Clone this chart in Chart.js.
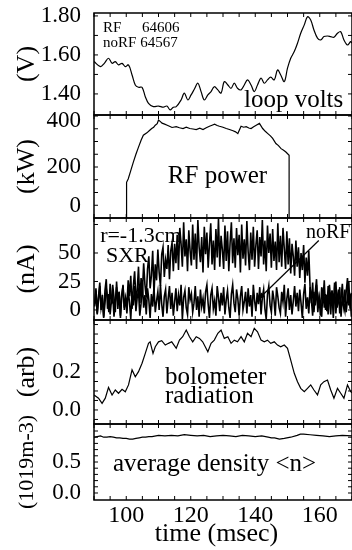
<!DOCTYPE html>
<html><head><meta charset="utf-8">
<script src="https://cdn.jsdelivr.net/npm/chart.js@4.4.0/dist/chart.umd.min.js"></script>
<style>
html,body{margin:0;padding:0;background:#fff;overflow:hidden;width:352px;height:550px}
canvas{display:block;background:#fff}
</style></head><body>
<canvas id="c" width="356" height="550"></canvas>
<script>
// ---------------- data ----------------
const timeRange = [90, 170];
const xTickVals = [100, 120, 140, 160];

// loop volts (V)
const loopT = [90.0,92.0,93.2,94.5,95.6,96.6,97.6,98.7,99.7,100.7,101.8,102.8,103.8,104.9,105.9,106.9,108.4,110.0,111.5,112.6,113.6,114.6,115.5,117.0,118.0,119.1,120.1,121.1,122.2,123.2,124.2,125.3,126.3,127.3,128.4,129.4,130.4,131.5,132.5,133.5,134.5,135.6,136.6,137.6,138.7,139.7,140.7,141.8,142.8,143.8,144.8,145.9,146.9,147.9,149.0,150.0,151.0,152.1,153.1,154.1,155.2,156.2,157.2,158.2,159.3,160.3,161.3,162.4,163.4,164.4,165.5,166.5,167.5,168.6,169.6,170];
const loopV = [1.566,1.540,1.557,1.583,1.557,1.566,1.549,1.557,1.540,1.549,1.497,1.446,1.434,1.434,1.386,1.352,1.335,1.338,1.332,1.338,1.318,1.332,1.335,1.369,1.404,1.369,1.395,1.424,1.455,1.412,1.369,1.395,1.412,1.437,1.421,1.404,1.463,1.446,1.429,1.455,1.429,1.421,1.446,1.472,1.446,1.412,1.446,1.481,1.455,1.472,1.486,1.472,1.523,1.497,1.463,1.532,1.583,1.617,1.660,1.711,1.754,1.796,1.779,1.728,1.686,1.677,1.694,1.697,1.694,1.691,1.711,1.719,1.677,1.651,1.668,1.66];

// RF power (kW)
const rfT = [100.1,100.1,100.6,101.4,102.2,103.0,103.8,104.6,105.3,106.4,107.2,107.9,108.5,109.0,109.6,110.0,110.6,111.1,111.9,112.7,113.4,114.2,115.5,116.5,117.6,118.6,119.7,120.7,121.7,122.8,123.8,124.8,125.8,126.6,127.4,128.2,128.9,130.0,131.0,132.0,133.1,133.9,134.6,135.6,136.4,137.2,138.0,138.7,139.5,140.3,141.3,142.3,143.1,143.9,144.7,145.4,146.4,147.2,148.0,148.8,149.5,150.5,150.5];
const rfP = [0,140,153,186,219,250,278,305,325,334,343,351,356,364,370,384,378,372,368,364,360,355,358,354,351,356,351,349,347,352,347,354,360,364,368,363,360,356,351,347,342,338,331,360,356,358,353,351,358,364,371,351,340,331,322,312,292,284,272,266,259,246,0];

// SXR chord r=-1.3cm (nA), sampled every 0.4 ms from 90.2 ms
const sxrStart = 90.2, sxrStep = 0.4;
const sxrRF = [5,19,-3,12,24,2,9,-6,17,27,1,14,-4,8,22,11,-2,25,6,16,-7,13,21,0,10,
  4,26,12,30,1,21,34,9,17,38,6,28,15,41,22,11,36,47,19,30,52,14,40,26,53,33,21,49,55,29,44,36,57,27,52,59,34,58,
  41,66,35,72,58,38,77,47,62,34,70,52,39,75,44,67,36,79,55,42,64,33,73,49,68,37,58,76,40,61,
  35,71,46,80,38,65,53,36,74,43,69,34,59,77,41,63,37,72,48,66,33,75,45,62,39,78,51,35,68,44,
  73,38,57,70,36,64,47,79,40,61,34,74,50,67,37,71,43,60,35,76,42,65,38,72,54,36,69,
  40,63,32,58,47,30,61,38,55,28,50,35,57,24,46,30,52,20,
  6,24,-2,15,27,3,11,-5,20,8,26,0,13,-4,22,9,17,-7,12,25,2,18,-3,10,23,5,-1,16,28,4,14,-6];
const sxrNoRF = [3,17,-4,9,21,0,13,-7,6,19,11,-2,23,5,14,-6,8,20,1,16,
  -5,12,22,2,10,-3,18,7,-8,15,4,21,-1,11,17,-5,6,24,2,13,
  -4,19,9,-7,14,3,20,-2,8,16,0,22,5,-6,12,18,-3,10,21,1,
  15,-5,7,19,-1,13,4,22,-8,11,17,2,-4,20,9,14,-2,6,21,0,
  12,-6,18,3,10,-3,16,22,5,-7,13,19,1,8,-5,21,11,-1,15,4,
  20,-4,9,17,2,-7,14,22,6,-2,18,10,-5,12,21,0,7,16,-3,19,
  3,13,-6,22,8,-1,15,5,20,-4,11,18,1,-8,14,21,4,-2,17,9,
  -5,20,12,2,-3,16,7,22,-6,10,19,0,13,-4,8,21,3,15,-1,18,
  6,-7,14,23,1,11,-3,20,9,-5,16,4,22,-2,12,7,-6,19,2,14,
  -1,21,10,-4,17,5,24,-3,13,8,20,-6,11,3,18,-2,9,25,1,15];

// bolometer radiation (arb)
const bolT = [90.0,91.4,92.5,93.5,94.5,95.6,96.6,97.6,98.7,99.7,100.7,101.8,102.8,103.8,104.9,105.9,106.9,107.4,108.3,109.0,110.0,111.0,112.1,113.1,114.1,115.5,116.5,117.5,118.6,119.6,120.6,121.7,122.7,123.7,125.3,126.3,127.3,128.4,129.4,130.4,131.5,132.5,133.5,134.5,135.6,136.6,137.6,138.7,139.7,140.7,141.8,142.8,143.8,144.8,145.9,146.9,147.9,149.0,150.0,151.0,152.1,153.1,154.1,155.2,156.2,157.2,158.2,159.3,160.3,161.3,162.4,163.4,164.4,165.5,166.5,167.5,168.6,169.6,170];
const bolV = [0.079,0.062,0.035,0.062,0.119,0.079,0.105,0.088,0.109,0.096,0.132,0.211,0.175,0.202,0.246,0.298,0.351,0.359,0.298,0.333,0.359,0.365,0.342,0.351,0.359,0.325,0.368,0.386,0.421,0.386,0.359,0.386,0.377,0.359,0.307,0.351,0.368,0.404,0.421,0.377,0.386,0.351,0.368,0.359,0.386,0.359,0.404,0.386,0.430,0.412,0.368,0.359,0.368,0.351,0.359,0.342,0.333,0.342,0.325,0.263,0.193,0.149,0.114,0.096,0.114,0.132,0.105,0.079,0.132,0.149,0.158,0.105,0.062,0.114,0.088,0.062,0.132,0.096,0.09];

// average density (10^19 m^-3)
const denT = [90,91,92,93,94,95,96,97,98,99,100,101,102,103,104,105,106,107,108,110,112,114,116,118,120,122,124,126,128,130,132,134,136,138,140,142,144,145,146,147.5,149,151,153,154,155,157,159,161,163,165,167,170];
const denV = [0.90,0.91,0.92,0.90,0.90,0.91,0.90,0.89,0.89,0.88,0.88,0.87,0.87,0.88,0.89,0.90,0.90,0.91,0.91,0.93,0.92,0.93,0.92,0.94,0.93,0.92,0.93,0.91,0.92,0.93,0.92,0.91,0.93,0.92,0.91,0.92,0.90,0.89,0.89,0.87,0.88,0.90,0.93,0.95,0.95,0.94,0.93,0.92,0.91,0.92,0.93,0.92];

// tick labels per panel
const loopTicks = [1.40, 1.60, 1.80];
const rfTicks = [0, 200, 400];
const sxrTicks = [0, 25, 50];
const bolTicks = [0.0, 0.2];
const denTicks = [0.0, 0.5];

// ---------------- layout / style ----------------
const SERIF = '"Liberation Serif", "Times New Roman", serif';
const panels = [
  {id:'yV',  min:1.292, max:1.815, h:102, title:'(V)',  tsize:26, labels:loopTicks, dec:2, inset:[0,0],  minor:[1.4,1.5,1.6,1.7,1.8]},
  {id:'yP',  min:0,     max:404,   h:103, title:'(kW)', tsize:26, labels:rfTicks,   dec:0, inset:[6,12], minor:[50,100,150,200,250,300,350,400]},
  {id:'yS',  min:-8.8,  max:80.7,  h:102, title:'(nA)', tsize:26, labels:sxrTicks,  dec:0, inset:[0,0],  minor:[0,25,50,75]},
  {id:'yB',  min:-0.074,max:0.474, h:104, title:'(arb)',tsize:26, labels:bolTicks,  dec:1, inset:[0,0],  minor:[-0.05,0,0.05,0.1,0.15,0.2,0.25,0.3,0.35,0.4,0.45]},
  {id:'yD',  min:-0.113,max:1.113, h:76,  title:'(1019m-3)', tsize:22, labels:denTicks, dec:1, inset:[0,0], minor:[0,0.1,0.2,0.3,0.4,0.5,0.6,0.7,0.8,0.9,1.0]}
];

const notes = [
  {axis:'yV', t:92.8,  v:1.719, text:'RF', size:15},
  {axis:'yV', t:104.9, v:1.719, text:'64606', size:15},
  {axis:'yV', t:92.8,  v:1.641, text:'noRF 64567', size:15},
  {axis:'yV', t:136.5, v:1.333, text:'loop volts', size:25},
  {axis:'yP', t:112.9, v:139, text:'RF power', size:25},
  {axis:'yS', t:91.9,  v:59.6, text:'r=-1.3cm', size:22},
  {axis:'yS', t:93.7,  v:42, text:'SXR', size:22},
  {axis:'yS', t:155.7, v:63.2, text:'noRF', size:20},
  {axis:'yB', t:112.0, v:0.137, text:'bolometer', size:25},
  {axis:'yB', t:112.0, v:0.037, text:'radiation', size:25},
  {axis:'yD', t:95.9,  v:0.355, text:'average density <n>', size:25}
];
const arrow = {axis:'yS', from:[159.7, 61], to:[140.8, 9]};

// ---------------- build ----------------
const pts = (xs, ys) => xs.map((x, i) => ({x, y: ys[i]}));
const sxrPts = arr => arr.map((y, i) => ({x: sxrStart + i * sxrStep, y}));

const line = (data, yAxisID, tension, w) => ({
  data, yAxisID, xAxisID:'x', borderColor:'#000', borderWidth: w || 1.2,
  pointRadius:0, fill:false, tension: tension || 0
});

const datasets = [
  line(pts(loopT, loopV), 'yV', 0.35),
  line(pts(rfT, rfP), 'yP', 0),
  line(sxrPts(sxrNoRF), 'yS', 0, 1.6),
  line(sxrPts(sxrRF), 'yS', 0, 1.6),
  line(pts(bolT, bolV), 'yB', 0),
  line(pts(denT, denV), 'yD', 0)
];

const scales = {
  x: {
    type:'linear', position:'bottom', min:timeRange[0], max:timeRange[1],
    grid:{display:false, drawTicks:false, tickLength:0}, border:{display:false},
    afterBuildTicks: ax => { ax.ticks = xTickVals.map(v => ({value:v})); },
    afterFit: ax => { ax.height = 50; },
    ticks:{font:{family:SERIF, size:24}, color:'#000', padding:1, maxRotation:0, autoSkip:false},
    title:{display:true, text:'time (msec)  ', font:{family:SERIF, size:26}, color:'#000', padding:{top:0, bottom:0}}
  }
};
// stacked left axes are placed top-down in reverse order of definition
panels.slice().reverse().forEach(p => {
  scales[p.id] = {
    type:'linear', position:'left', stack:'v', stackWeight:p.h,
    min:p.min, max:p.max,
    grid:{display:false, drawTicks:false, tickLength:0}, border:{display:false},
    ticks:{display:false},
    afterFit: ax => { ax.width = 94; },
    title:{display:true, text:p.title, font:{family:SERIF, size:p.tsize}, color:'#000',
           padding:{top: 27 - p.tsize * 0.6, bottom:0}}
  };
});

const framePlugin = {
  id:'frame',
  beforeDatasetDraw(chart, args) {
    const ys = chart.scales[args.meta.yAxisID], a = chart.chartArea, ctx = chart.ctx;
    ctx.save(); ctx.beginPath();
    ctx.rect(a.left, ys.top, a.right - a.left, ys.bottom - ys.top); ctx.clip();
  },
  afterDatasetDraw(chart) { chart.ctx.restore(); },
  afterDraw(chart) {
    const ctx = chart.ctx, a = chart.chartArea, xs = chart.scales.x;
    ctx.save();
    ctx.strokeStyle = '#000'; ctx.fillStyle = '#000';
    panels.forEach(p => {
      const ys = chart.scales[p.id];
      ctx.lineWidth = 1.5;
      ctx.strokeRect(a.left, ys.top, a.right - a.left, ys.bottom - ys.top);
      ctx.lineWidth = 1;
      ctx.beginPath();
      for (let t = timeRange[0]; t <= timeRange[1]; t += 5) {
        const x = xs.getPixelForValue(t);
        ctx.moveTo(x, ys.top); ctx.lineTo(x, ys.top + 4);
        ctx.moveTo(x, ys.bottom); ctx.lineTo(x, ys.bottom - 4);
      }
      p.minor.forEach(v => {
        const y = ys.getPixelForValue(v);
        ctx.moveTo(a.left, y); ctx.lineTo(a.left + 4, y);
        ctx.moveTo(a.right, y); ctx.lineTo(a.right - 4, y);
      });
      ctx.stroke();
      ctx.font = '23px ' + SERIF; ctx.textAlign = 'right'; ctx.textBaseline = 'middle';
      p.labels.forEach(v => {
        let y = ys.getPixelForValue(v);
        y = Math.min(Math.max(y, ys.top + p.inset[0]), ys.bottom - p.inset[1]);
        ctx.fillText(v.toFixed(p.dec), 81, y);
      });
    });
    ctx.textAlign = 'left'; ctx.textBaseline = 'alphabetic';
    notes.forEach(n => {
      ctx.font = n.size + 'px ' + SERIF;
      ctx.fillText(n.text, xs.getPixelForValue(n.t), chart.scales[n.axis].getPixelForValue(n.v));
    });
    const ys = chart.scales[arrow.axis];
    const x1 = xs.getPixelForValue(arrow.from[0]), y1 = ys.getPixelForValue(arrow.from[1]);
    const x2 = xs.getPixelForValue(arrow.to[0]), y2 = ys.getPixelForValue(arrow.to[1]);
    ctx.lineWidth = 1.2;
    ctx.beginPath(); ctx.moveTo(x1, y1); ctx.lineTo(x2, y2); ctx.stroke();
    const ang = Math.atan2(y2 - y1, x2 - x1), L = 8;
    ctx.beginPath();
    ctx.moveTo(x2, y2);
    ctx.lineTo(x2 - L * Math.cos(ang - 0.35), y2 - L * Math.sin(ang - 0.35));
    ctx.lineTo(x2 - L * Math.cos(ang + 0.35), y2 - L * Math.sin(ang + 0.35));
    ctx.closePath(); ctx.fill();
    ctx.restore();
  }
};

new Chart(document.getElementById('c'), {
  type:'line',
  data:{datasets},
  options:{
    responsive:false, animation:false, parsing:true,
    layout:{padding:{top:13, right:4, left:0, bottom:0}},
    plugins:{legend:{display:false}, tooltip:{enabled:false}},
    scales
  },
  plugins:[framePlugin]
});
</script>
</body></html>
